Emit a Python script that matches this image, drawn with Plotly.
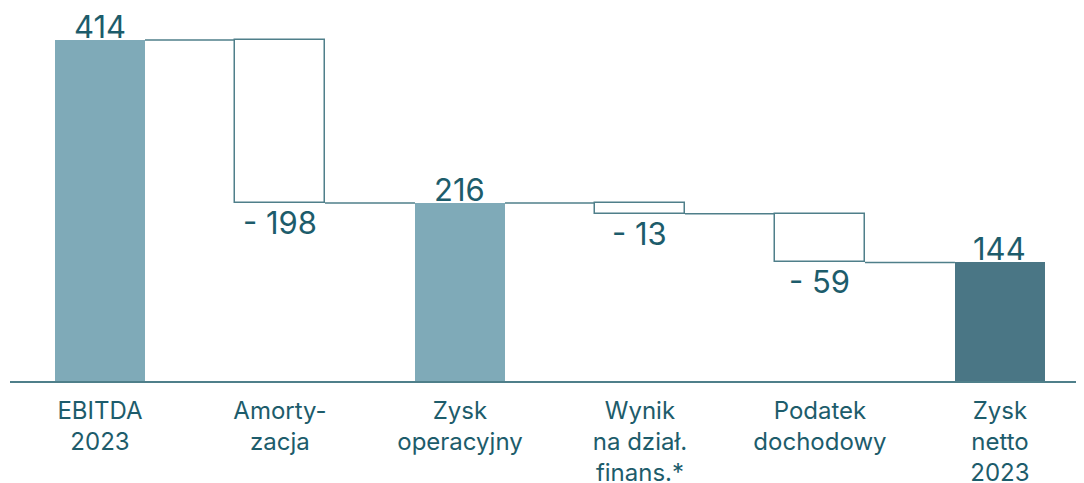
import plotly.graph_objects as go

categories = ["EBITDA<br>2023", "Amorty-<br>zacja", "Zysk<br>operacyjny",
              "Wynik<br>na dział.<br>finans.*", "Podatek<br>dochodowy", "Zysk<br>netto<br>2023"]
values = [414, -198, 216, -13, -59, 144]
measures = ["total", "relative", "total", "relative", "relative", "total"]
value_labels = ["414", "- 198", "216", "- 13", "- 59", "144"]

LIGHT = "#7FAAB8"
DARK = "#4A7685"
EDGE = "#4F7F8A"
TEXT = "#1D5C6B"

bases, heights, ends, colors, lw = [], [], [], [], []
level = 0
for i, (v, m) in enumerate(zip(values, measures)):
    if m == "total":
        bases.append(0)
        heights.append(v)
        level = v
        colors.append(DARK if i == len(values) - 1 else LIGHT)
        lw.append(0)
    else:
        bases.append(level)
        heights.append(v)
        level = level + v
        colors.append("white")
        lw.append(1.5)
    ends.append(level)

x = list(range(len(categories)))
W = 0.5

fig = go.Figure()
fig.add_trace(go.Bar(x=x, y=heights, base=bases, width=W,
                     marker=dict(color=colors, line=dict(color=EDGE, width=lw)),
                     hoverinfo="skip", showlegend=False))

# connectors
cx, cy = [], []
for i in range(len(x) - 1):
    cx += [x[i] + W / 2, x[i + 1] - W / 2, None]
    cy += [ends[i], ends[i], None]
fig.add_trace(go.Scatter(x=cx, y=cy, mode="lines", line=dict(color=EDGE, width=1.5),
                         hoverinfo="skip", showlegend=False))

for i, (v, lab) in enumerate(zip(values, value_labels)):
    top = bases[i] + max(v, 0)
    bot = bases[i] + min(v, 0)
    if measures[i] == "total":
        fig.add_annotation(x=x[i], y=top, text=lab, showarrow=False, yanchor="bottom",
                           yshift=-6, borderpad=0,
                           font=dict(size=31, color=TEXT, family="Inter"))
    else:
        fig.add_annotation(x=x[i], y=bot, text=lab, showarrow=False, yanchor="top",
                           yshift=0, borderpad=0,
                           font=dict(size=31, color=TEXT, family="Inter"))

fig.update_layout(
    width=1076, height=475,
    margin=dict(l=2, r=0, t=2, b=102, autoexpand=False),
    paper_bgcolor="white", plot_bgcolor="white",
    bargap=0,
    xaxis=dict(tickmode="array", tickvals=x, ticktext=categories,
               range=[-0.5, 5.467], showgrid=False, zeroline=False,
               showline=True, linecolor=EDGE, linewidth=2, ticks="",
               ticklabelstandoff=7, automargin=False,
               tickfont=dict(size=24, color=TEXT, family="Inter")),
    yaxis=dict(range=[0, 450.4], visible=False, showgrid=False, zeroline=False,
               automargin=False),
)

fig.write_html("out.html")
